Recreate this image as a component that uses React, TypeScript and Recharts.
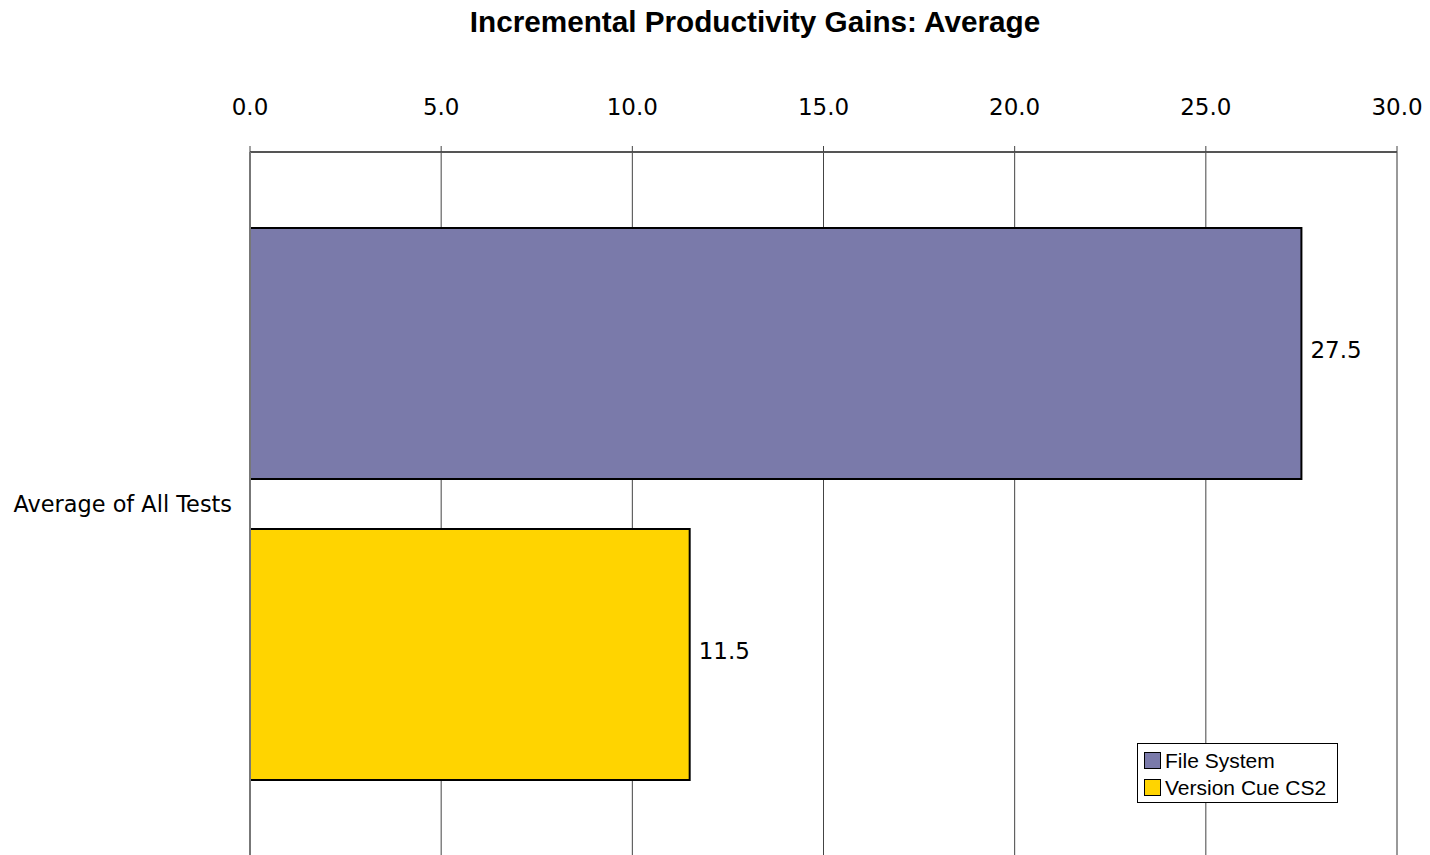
import React from 'react'
import {
  Bar,
  BarChart,
  CartesianGrid,
  LabelList,
  ReferenceLine,
  XAxis,
  YAxis,
} from 'recharts'

const categories = ['Average of All Tests']
const fileSystem = [27.5]
const versionCue = [11.5]
const xTicks = [0, 5, 10, 15, 20, 25, 30]

const seriesInfo = [
  { key: 'fileSystem', name: 'File System', color: '#7a7aaa' },
  { key: 'versionCue', name: 'Version Cue CS2', color: '#ffd400' },
]

const data = categories.map((name, i) => ({
  name,
  fileSystem: fileSystem[i],
  versionCue: versionCue[i],
}))

const font = '"Liberation Sans", Arial, sans-serif'
const axisFont = '"DejaVu Sans", sans-serif'

const LegendBox = () => (
  <div
    style={{
      position: 'absolute',
      left: 1137,
      top: 743,
      width: 201,
      height: 60,
      border: '1px solid #000',
      background: '#fff',
      fontFamily: font,
      fontSize: 21,
      color: '#000',
      boxSizing: 'border-box',
      padding: '3px 0 0 6px',
    }}
  >
    {seriesInfo.map((s) => (
      <div
        key={s.key}
        style={{ display: 'flex', alignItems: 'center', height: 27 }}
      >
        <span
          style={{
            display: 'inline-block',
            width: 15,
            height: 15,
            background: s.color,
            border: '1px solid #000',
            marginRight: 4,
          }}
        />
        {s.name}
      </div>
    ))}
  </div>
)

export default function App() {
  return (
    <div
      style={{
        position: 'absolute',
        left: 0,
        top: 0,
        width: 1430,
        height: 855,
        background: '#fff',
        overflow: 'hidden',
      }}
    >
      <div
        style={{
          position: 'absolute',
          left: 0,
          top: 5,
          width: 1510,
          textAlign: 'center',
          fontFamily: font,
          fontWeight: 'bold',
          fontSize: 29.7,
          color: '#000',
        }}
      >
        Incremental Productivity Gains: Average
      </div>
      <BarChart
        width={1430}
        height={856}
        data={data}
        layout="vertical"
        barSize={251}
        barGap={50}
        margin={{ top: 92, right: 33, bottom: 0, left: 0 }}
      >
        <CartesianGrid horizontal={false} stroke="#444" strokeWidth={1} />
        <XAxis
          type="number"
          orientation="top"
          domain={[0, 30]}
          ticks={xTicks}
          interval={0}
          height={60}
          tickFormatter={(v: number) => v.toFixed(1)}
          tick={{ fill: '#000', fontSize: 23, fontFamily: axisFont }}
          tickSize={6}
          tickMargin={31}
          stroke="#555"
          strokeWidth={2}
          tickLine={{ stroke: '#444', strokeWidth: 1 }}
        />
        <YAxis
          type="category"
          dataKey="name"
          width={250}
          tickLine={false}
          tickMargin={12}
          stroke="#777"
          strokeWidth={2}
          tick={{ fill: '#000', fontSize: 22.4, fontFamily: axisFont }}
        />
        <ReferenceLine x={30} stroke="#999" strokeWidth={2} />
        {seriesInfo.map((s) => (
          <Bar
            key={s.key}
            dataKey={s.key}
            name={s.name}
            fill={s.color}
            stroke="#000"
            strokeWidth={2}
            isAnimationActive={false}
          >
            <LabelList
              dataKey={s.key}
              position="right"
              offset={9}
              dy={-4}
              formatter={(v: any) => Number(v).toFixed(1)}
              style={{ fill: '#000', fontSize: 23, fontFamily: axisFont }}
            />
          </Bar>
        ))}
      </BarChart>
      <LegendBox />
    </div>
  )
}
